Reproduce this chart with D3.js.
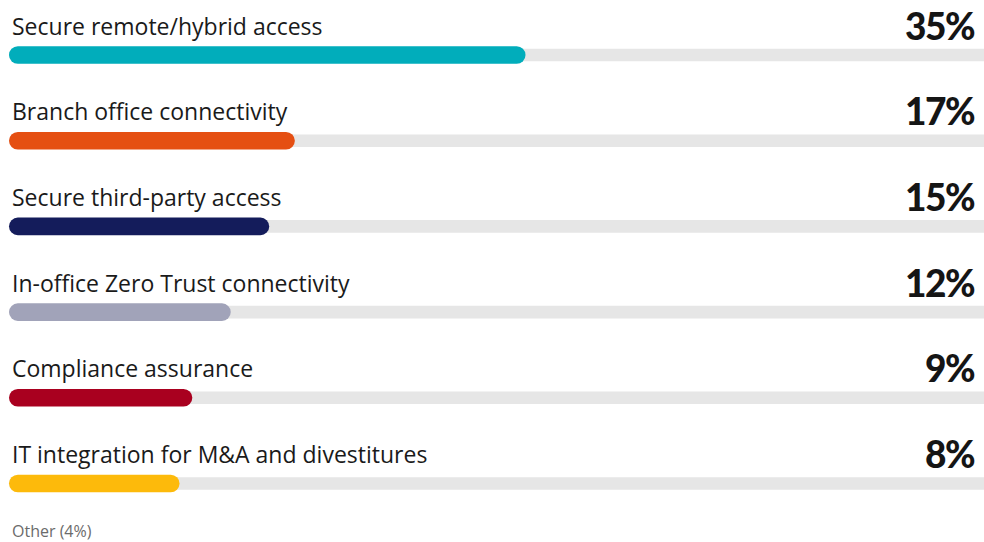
<!DOCTYPE html>
<html>
<head>
<meta charset="utf-8">
<script src="https://cdn.jsdelivr.net/npm/d3@7"></script>
<style>
  html, body { margin: 0; padding: 0; background: #ffffff; }
  svg { display: block; }
</style>
</head>
<body>
<div id="chart"></div>
<script>
// Survey shares by use case
const categories = [
  "Secure remote/hybrid access",
  "Branch office connectivity",
  "Secure third-party access",
  "In-office Zero Trust connectivity",
  "Compliance assurance",
  "IT integration for M&A and divestitures"
];
const values = [35, 17, 15, 12, 9, 8];
const colors = ["#01adbb", "#e54f12", "#141c5b", "#a1a3b9", "#a9001f", "#fdba0b"];
const footnote = "Other (4%)";

const W = 984, H = 542;
const left = 9, right = W;
const barH = 17.6, trackH = 12.6;

const svg = d3.select("#chart").append("svg")
  .attr("width", W).attr("height", H);

// Row centres
const y = d3.scalePoint()
  .domain(categories)
  .range([55, 483.5]);

// Bar length: a minimum stub plus a linear share of the value
const x = d3.scaleLinear()
  .domain([0, 35])
  .range([77, 525.5]);

const rows = svg.selectAll("g.row")
  .data(categories.map((c, i) => ({ name: c, value: values[i], color: colors[i] })))
  .join("g")
  .attr("class", "row")
  .attr("transform", d => `translate(0,${y(d.name)})`);

// Grey track
rows.append("rect")
  .attr("x", left)
  .attr("y", -trackH / 2)
  .attr("width", right - left + 10)
  .attr("height", trackH)
  .attr("rx", trackH / 2)
  .attr("fill", "#e6e6e6");

// Value bar
rows.append("rect")
  .attr("x", left)
  .attr("y", -barH / 2)
  .attr("width", d => x(d.value) - left)
  .attr("height", barH)
  .attr("rx", barH / 2)
  .attr("fill", d => d.color);

// Category label
rows.append("text")
  .attr("x", 12)
  .attr("y", -20.5)
  .attr("font-family", "'Open Sans', Lato, sans-serif")
  .attr("font-size", 23)
  .attr("fill", "#1a1a1a")
  .text(d => d.name);

// Percentage label
rows.append("text")
  .attr("x", 974)
  .attr("y", -15.5)
  .attr("text-anchor", "end")
  .attr("font-family", "Lato, 'Open Sans', sans-serif")
  .attr("font-weight", 900)
  .attr("font-size", 37)
  .attr("letter-spacing", -1.5)
  .attr("fill", "#151515")
  .text(d => d.value + "%");

svg.append("text")
  .attr("x", 12)
  .attr("y", 537)
  .attr("font-family", "'Open Sans', Lato, sans-serif")
  .attr("font-size", 16)
  .attr("fill", "#6b6b6b")
  .text(footnote);
</script>
</body>
</html>
